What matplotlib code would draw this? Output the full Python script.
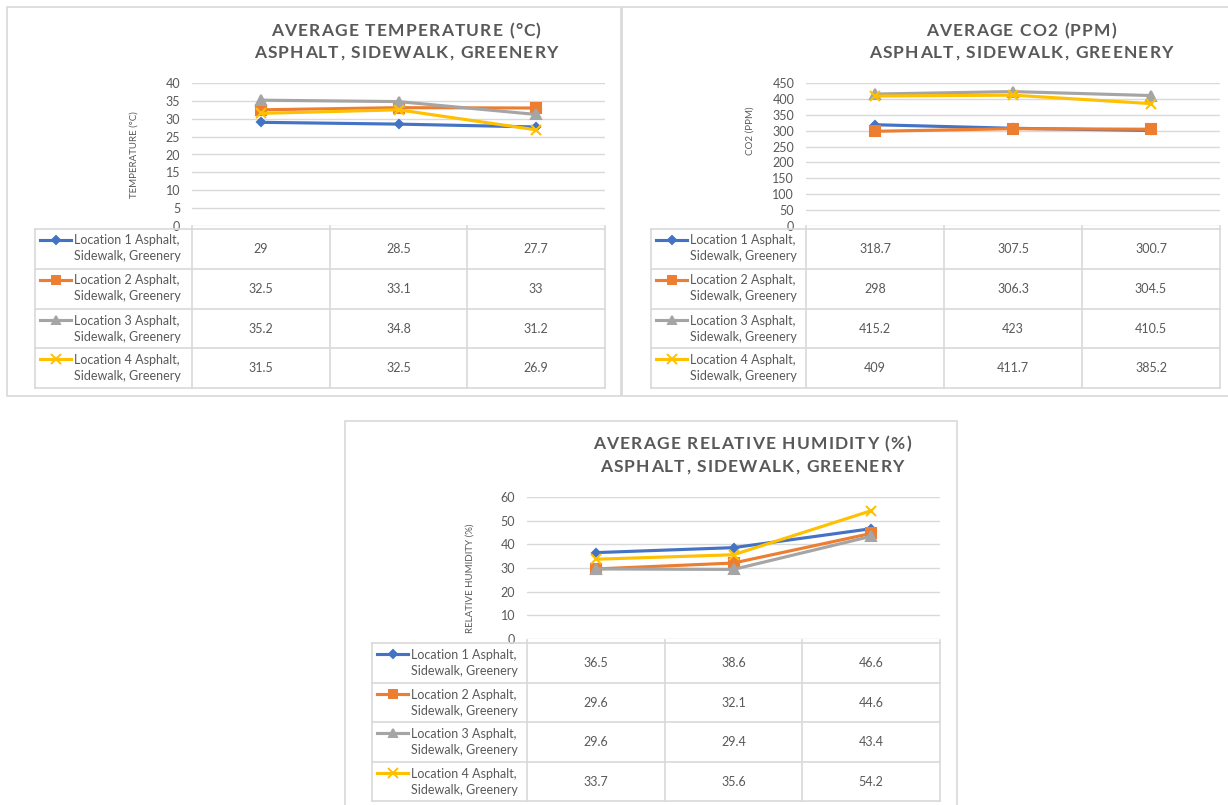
import matplotlib.pyplot as plt
from matplotlib.patches import Rectangle
from matplotlib.font_manager import FontProperties
from matplotlib.transforms import blended_transform_factory

plt.rcParams['font.family'] = ['Lato', 'DejaVu Sans']

W, H = 1228, 805

# series (rows of the data table) and values per surface column
series_names = ['Location 1 Asphalt,\nSidewalk, Greenery',
                'Location 2 Asphalt,\nSidewalk, Greenery',
                'Location 3 Asphalt,\nSidewalk, Greenery',
                'Location 4 Asphalt,\nSidewalk, Greenery']
temperature = [[29, 28.5, 27.7], [32.5, 33.1, 33], [35.2, 34.8, 31.2], [31.5, 32.5, 26.9]]
co2 = [[318.7, 307.5, 300.7], [298, 306.3, 304.5], [415.2, 423, 410.5], [409, 411.7, 385.2]]
humidity = [[36.5, 38.6, 46.6], [29.6, 32.1, 44.6], [29.6, 29.4, 43.4], [33.7, 35.6, 54.2]]

colors = ['#4472C4', '#ED7D31', '#A5A5A5', '#FFC000']
markers = ['D', 's', '^', 'x']
msizes = [4.5, 6.5, 6.5, 7]
txt = '#595959'
grid_c = '#d9d9d9'

fig = plt.figure(figsize=(W / 100, H / 100), dpi=100)
renderer = fig.canvas.get_renderer()
title_font = FontProperties(family=['Lato', 'DejaVu Sans'], weight='bold', size=12.5)


def box(x0, y0, x1, y1):
    # pixel box -> figure fraction [left, bottom, width, height]
    return [x0 / W, 1 - y1 / H, (x1 - x0) / W, (y1 - y0) / H]


def text_w(s):
    return renderer.get_text_width_height_descent(s, title_font, ismath=False)[0]


def advance(s):
    # width of s including trailing spaces, measured against a sentinel glyph
    return text_w(s + '|') - text_w('|')


def spaced_title(s, cx, cy, spacing=1.2):
    # Excel style title with letter spacing, drawn char by char
    total = advance(s) + spacing * (len(s) - 1)
    x0 = cx - total / 2
    for i, ch in enumerate(s):
        if ch == ' ':
            continue
        x = x0 + (advance(s[:i]) if i else 0) + spacing * i
        fig.text(x / W, 1 - cy / H, ch, ha='left', va='center', fontproperties=title_font,
                 color=txt)


def panel(frame, L, R, T, B, tl, rows, title, tx, ty, ylabel, lx, ly, ymax, step, values):
    fig.add_artist(Rectangle(box(*frame)[:2], *box(*frame)[2:], transform=fig.transFigure,
                             fill=False, ec=grid_c, lw=1.2))

    ax = fig.add_axes(box(L, T, R, B))
    n = len(values[0])
    xs = [i + 0.5 for i in range(n)]
    for k, ser in enumerate(values):
        ax.plot(xs, ser, color=colors[k], marker=markers[k], ms=msizes[k], mew=1.5,
                lw=2.25, zorder=3, clip_on=False)
    ax.set_xlim(0, n)
    ax.set_ylim(0, ymax)
    ax.set_yticks(range(0, ymax + 1, step))
    ax.set_xticks([])
    ax.grid(axis='y', color=grid_c, lw=1)
    for s in ax.spines.values():
        s.set_visible(False)
    ax.tick_params(axis='y', length=0, pad=8.5, labelsize=9, labelcolor=txt)

    fig.text(lx / W, 1 - ly / H, ylabel, rotation=90, ha='center', va='center',
             fontsize=7, color=txt)
    for j, line in enumerate(title):
        spaced_title(line, tx, ty[j])

    # data table under the plot
    tab = fig.add_axes(box(tl, rows[0], R, rows[-1]))
    tab.set_xlim(tl, R)
    tab.set_ylim(rows[-1], rows[0])
    tab.axis('off')
    tr = blended_transform_factory(ax.transData, tab.transData)
    for y in rows:
        tab.plot([tl, R], [y, y], color=grid_c, lw=1.2, clip_on=False)
    tab.plot([tl, tl], [rows[0], rows[-1]], color=grid_c, lw=1.2, clip_on=False)
    for i in range(n + 1):
        tab.plot([i, i], [rows[0] - 3, rows[-1]], color=grid_c, lw=1.2, clip_on=False,
                 transform=tr)
    for k, ser in enumerate(values):
        top, bot = rows[k], rows[k + 1]
        tab.plot([tl + 5, tl + 36], [top + 11, top + 11], color=colors[k], lw=2.25,
                 clip_on=False)
        tab.plot([tl + 20.5], [top + 11], color=colors[k], marker=markers[k],
                 ms=msizes[k] - 0.5, mew=1.4, clip_on=False)
        tab.text(tl + 39, top + 19.5, series_names[k], ha='left', va='center',
                 fontsize=9, color=txt, linespacing=1.4)
        for i, v in enumerate(ser):
            tab.text(i + 0.5, (top + bot) / 2, f'{v:g}', ha='center', va='center',
                     fontsize=9, color=txt, transform=tr)


panel((7, 7, 621, 396), 192, 605, 83, 226, 35, [229, 269, 309, 348, 388],
      ['AVERAGE TEMPERATURE (°C)', 'ASPHALT, SIDEWALK, GREENERY'], 406, [31, 53],
      'TEMPERATURE (°C)', 134, 155, 40, 5, temperature)

panel((622, 7, 1240, 396), 806, 1220, 83, 226, 651, [229, 269, 309, 348, 388],
      ['AVERAGE CO2 (PPM)', 'ASPHALT, SIDEWALK, GREENERY'], 1021, [31, 53],
      'CO2 (PPM)', 750, 131, 450, 50, co2)

panel((345, 421, 957, 820), 527, 940, 497, 639, 372, [643, 683, 722, 762, 801],
      ['AVERAGE RELATIVE HUMIDITY (%)', 'ASPHALT, SIDEWALK, GREENERY'], 752, [444, 467],
      'RELATIVE HUMIDITY (%)', 470, 578, 60, 10, humidity)

fig.savefig('out.png', dpi=100)
